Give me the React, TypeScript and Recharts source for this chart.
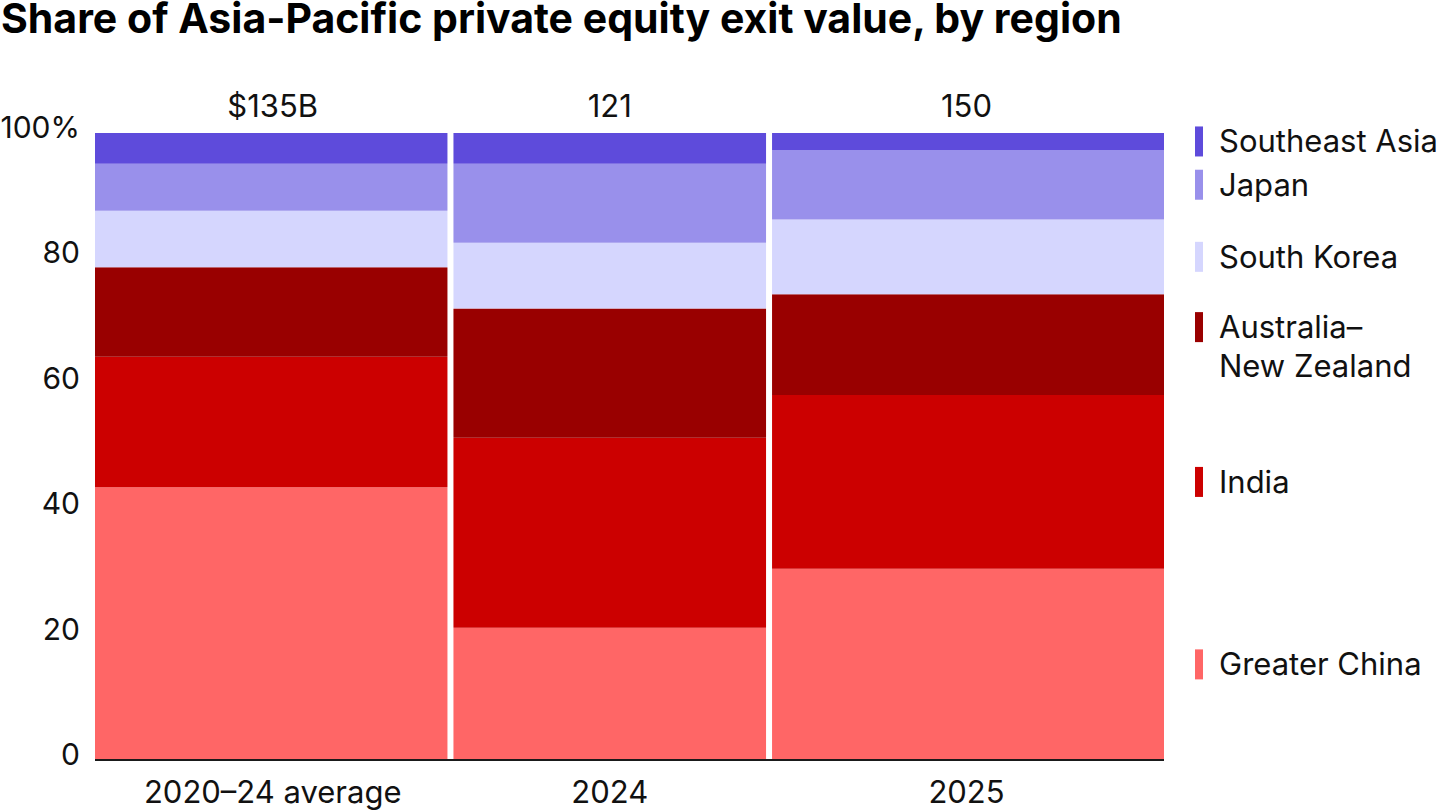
import { ComposedChart, XAxis, YAxis, ReferenceArea, ReferenceLine } from "recharts";

// columns (width of each column = total exit value)
const columns = ["2020–24 average", "2024", "2025"];
const totals = [135, 121, 150];
const totalLabels = ["$135B", "121", "150"];

// regions, bottom to top
const regions = ["Greater China", "India", "Australia–New Zealand", "South Korea", "Japan", "Southeast Asia"];
const regionColors = ["#ff6666", "#cc0000", "#990000", "#d5d6fe", "#9990eb", "#5e4bdb"];
const legendLines = [["Greater China"], ["India"], ["Australia–", "New Zealand"], ["South Korea"], ["Japan"], ["Southeast Asia"]];

// share of exit value, %, per column
const greaterChina = [43.5, 21.1, 30.5];
const india = [20.8, 30.3, 27.7];
const australiaNz = [14.3, 20.6, 16.1];
const southKorea = [9.0, 10.5, 11.9];
const japan = [7.5, 12.6, 11.1];
const southeastAsia = [4.9, 4.9, 2.7];

const yTicks = [0, 20, 40, 60, 80, 100];

const shares = [greaterChina, india, australiaNz, southKorea, japan, southeastAsia];

const starts = totals.map((_, i) => totals.slice(0, i).reduce((a, b) => a + b, 0));
const grandTotal = totals.reduce((a, b) => a + b, 0);
const data = columns.map((name, i) => ({
  name,
  total: totals[i],
  start: starts[i],
  end: starts[i] + totals[i],
  mid: starts[i] + totals[i] / 2,
}));

const cells = data.flatMap((col, ci) => {
  let base = 0;
  return shares.map((series, ri) => {
    const low = base;
    base += series[ci];
    return { ci, ri, x1: col.start, x2: col.end, y1: low, y2: base };
  });
});

const FONT = "Inter, 'Noto Sans', sans-serif";
const TEXT = "#111";

const labelFor = (v: number, list: string[]) => {
  const i = data.findIndex((d) => Math.abs(d.mid - v) < 0.01);
  return i >= 0 ? list[i] : "";
};

const BottomTick = ({ x, y, payload }: any) => (
  <text x={x} y={y + 43} textAnchor="middle" fontSize={31} fontFamily={FONT} fill={TEXT}>
    {labelFor(payload.value, columns)}
  </text>
);

const TopTick = ({ x, y, payload }: any) => (
  <text x={x} y={y - 16} textAnchor="middle" fontSize={31} fontFamily={FONT} fill={TEXT}>
    {labelFor(payload.value, totalLabels)}
  </text>
);

const LeftTick = ({ x, y, payload }: any) => (
  <text x={x - 15} y={y + 5} textAnchor="end" fontSize={30} fontFamily={FONT} fill={TEXT}>
    {payload.value === 100 ? "100%" : payload.value}
  </text>
);

const legendLabel = (ri: number) => (props: any) => {
  const vb = props.viewBox;
  if (!vb) return null;
  const lines = legendLines[ri];
  const mid = vb.y + vb.height / 2;
  const lineGap = 39;
  const first = lines.length > 1 ? mid - 17.5 : mid;
  const left = vb.x + vb.width;
  return (
    <g>
      <rect x={left + 31} y={first - 15} width={8} height={30} fill={regionColors[ri]} />
      {lines.map((l, k) => (
        <text key={k} x={left + 55} y={first + k * lineGap + 11} fontSize={31} fontFamily={FONT} fill={TEXT}>
          {l}
        </text>
      ))}
    </g>
  );
};

export default function App() {
  const lastCol = columns.length - 1;
  return (
    <div style={{ position: "absolute", left: 0, top: 0, width: 1440, height: 810, background: "#fff" }}>
      <div style={{ position: "absolute", left: 0, top: 0 }}>
        <ComposedChart width={1440} height={810} data={data} margin={{ top: 73, right: 276, bottom: 10, left: 0 }}>
          <XAxis
            dataKey="mid"
            type="number"
            domain={[0, grandTotal]}
            ticks={data.map((d) => d.mid)}
            tick={<BottomTick />}
            tickSize={0}
            tickMargin={0}
            tickLine={false}
            axisLine={{ stroke: "#1a1a1a", strokeWidth: 2 }}
            height={40}
            interval={0}
            allowDataOverflow
          />
          <XAxis
            xAxisId="top"
            orientation="top"
            dataKey="mid"
            type="number"
            domain={[0, grandTotal]}
            ticks={data.map((d) => d.mid)}
            tick={<TopTick />}
            tickSize={0}
            tickMargin={0}
            tickLine={false}
            axisLine={false}
            height={60}
            interval={0}
            allowDataOverflow
          />
          <YAxis
            type="number"
            domain={[0, 100]}
            ticks={yTicks}
            tick={<LeftTick />}
            tickSize={0}
            tickMargin={0}
            tickLine={false}
            axisLine={false}
            width={95}
            interval={0}
            allowDataOverflow
          />
          {cells.map((c) => (
            <ReferenceArea
              key={`${c.ci}-${c.ri}`}
              x1={c.x1}
              x2={c.x2}
              y1={c.y1}
              y2={c.y2}
              fill={regionColors[c.ri]}
              fillOpacity={1}
              stroke="none"
              ifOverflow="visible"
              label={c.ci === lastCol ? legendLabel(c.ri) : undefined}
            />
          ))}
          {data.slice(1).map((d) => (
            <ReferenceLine key={d.name} x={d.start} stroke="#fff" strokeWidth={6} ifOverflow="visible" />
          ))}
        </ComposedChart>
      </div>
      <div
        style={{
          position: "absolute",
          left: 1,
          top: 0,
          fontFamily: "Inter, Roboto, sans-serif",
          fontWeight: 700,
          fontSize: 41,
          letterSpacing: 0,
          lineHeight: "36px",
          paddingBottom: 10,
          color: "#000",
          whiteSpace: "nowrap",
        }}
      >
        Share of Asia-Pacific private equity exit value, by region
      </div>
    </div>
  );
}
